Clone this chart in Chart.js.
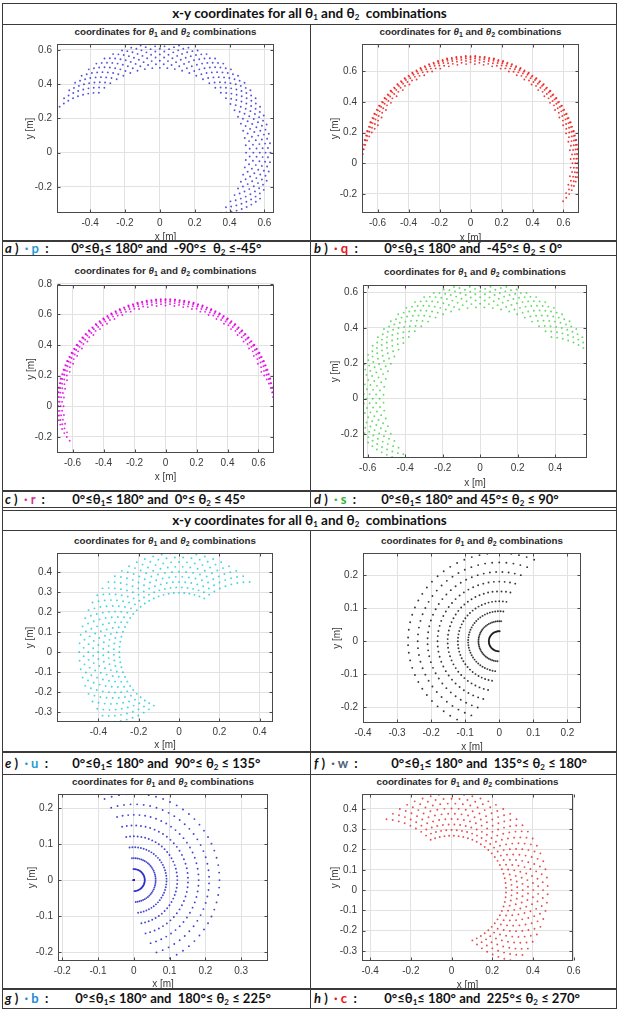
<!DOCTYPE html>
<html>
<head>
<meta charset="utf-8">
<script src="https://cdn.jsdelivr.net/npm/chart.js@4.4.1/dist/chart.umd.min.js"></script>
<style>
  html, body { margin: 0; padding: 0; background: #fff; }
  #page { position: relative; width: 619px; height: 1010px; overflow: hidden; }
  .ln { position: absolute; background: #3a3a3a; }
  .hdr { position: absolute; left: 3px; width: 613px; text-align: center; font: bold 13.5px Lato, sans-serif; color: #111; white-space: pre; }
  .ttl { position: absolute; width: 260px; height: 12px; line-height: 12px; text-align: center; white-space: pre;
         font: bold 9.8px 'Liberation Sans', Arial, sans-serif; color: #2a2a2a; }
  .cap { position: absolute; font: bold 13px Lato, sans-serif; color: #111; white-space: pre; }
  .cap .cond { position: absolute; top: 0; }
  sub { font-size: 8px; line-height: 0; vertical-align: -2px; }
  .ttl sub { font-size: 7px; vertical-align: -2px; }
  canvas { position: absolute; }
</style>
</head>
<body>
<div id="page">
  <!-- table lines -->
  <div class="ln" style="left:2px;top:3px;width:615px;height:1px"></div>
  <div class="ln" style="left:2px;top:24px;width:615px;height:1px"></div>
  <div class="ln" style="left:2px;top:3px;width:1px;height:1005px"></div>
  <div class="ln" style="left:616px;top:3px;width:1px;height:1005px"></div>
  <div class="ln" style="left:310px;top:24px;width:1px;height:484px"></div>
  <div class="ln" style="left:310px;top:530px;width:1px;height:478px"></div>
  <div class="ln" style="left:2px;top:240px;width:615px;height:2px"></div>
  <div class="ln" style="left:2px;top:255px;width:615px;height:1px"></div>
  <div class="ln" style="left:2px;top:490px;width:615px;height:2px"></div>
  <div class="ln" style="left:2px;top:507px;width:615px;height:1px"></div>
  <div class="ln" style="left:2px;top:510px;width:615px;height:1px"></div>
  <div class="ln" style="left:2px;top:530px;width:615px;height:1px"></div>
  <div class="ln" style="left:2px;top:751px;width:615px;height:2px"></div>
  <div class="ln" style="left:2px;top:774px;width:615px;height:1px"></div>
  <div class="ln" style="left:2px;top:988px;width:615px;height:2px"></div>
  <div class="ln" style="left:2px;top:1008px;width:615px;height:1px"></div>

  <div class="hdr" style="top:3px;height:21px;line-height:21px">x-y coordinates for all θ<sub>1</sub> and θ<sub>2</sub>  combinations</div>
  <div class="hdr" style="top:510px;height:20px;line-height:20px">x-y coordinates for all θ<sub>1</sub> and θ<sub>2</sub>  combinations</div>

  <div class="cap" style="left:5px;top:241px;height:14px;line-height:14px"><i>a</i> )  <span style="color:#1f9ad6">· p</span>  :<span class="cond" style="left:60px">  0°≤θ<sub>1</sub>≤ 180° and  -90°≤  θ<sub>2</sub> ≤-45°</span></div>
  <div class="cap" style="left:314px;top:241px;height:14px;line-height:14px"><i>b</i> )  <span style="color:#e8141b">· q</span>  :<span class="cond" style="left:64px">  0°≤θ<sub>1</sub>≤ 180° and  -45°≤ θ<sub>2</sub> ≤ 0°</span></div>
  <div class="cap" style="left:5px;top:491px;height:16px;line-height:16px"><i>c</i> )  <span style="color:#d9318f">· r</span>  :<span class="cond" style="left:61px">  0°≤θ<sub>1</sub>≤ 180° and  0°≤ θ<sub>2</sub> ≤ 45°</span></div>
  <div class="cap" style="left:314px;top:491px;height:16px;line-height:16px"><i>d</i> )  <span style="color:#2fb52f">· s</span>  :<span class="cond" style="left:61px">  0°≤θ<sub>1</sub>≤ 180° and 45°≤ θ<sub>2</sub> ≤ 90°</span></div>
  <div class="cap" style="left:5px;top:752px;height:22px;line-height:22px"><i>e</i> )  <span style="color:#1f9ad6">· u</span>  :<span class="cond" style="left:61px">  0°≤θ<sub>1</sub>≤ 180° and  90°≤ θ<sub>2</sub> ≤ 135°</span></div>
  <div class="cap" style="left:314px;top:752px;height:22px;line-height:22px"><i>f</i> )  <span style="color:#4f6179">· w</span>  :<span class="cond" style="left:71px">  0°≤θ<sub>1</sub>≤ 180° and  135°≤ θ<sub>2</sub> ≤ 180°</span></div>
  <div class="cap" style="left:5px;top:989px;height:19px;line-height:19px"><i>g</i> )  <span style="color:#1f8bd6">· b</span>  :<span class="cond" style="left:64px">  0°≤θ<sub>1</sub>≤ 180° and  180°≤ θ<sub>2</sub> ≤ 225°</span></div>
  <div class="cap" style="left:314px;top:989px;height:19px;line-height:19px"><i>h</i> )  <span style="color:#e8141b">· c</span>  :<span class="cond" style="left:64px">  0°≤θ<sub>1</sub>≤ 180° and  225°≤ θ<sub>2</sub> ≤ 270°</span></div>
</div>

<script>
// link lengths of the two-link arm [m] (full reach 0.7 m)
const L1 = 0.35;
const L2 = 0.35;

// θ1 sweep [deg], same for every plot
const theta1Deg = [0, 5, 10, 15, 20, 25, 30, 35, 40, 45, 50, 55, 60, 65, 70, 75, 80, 85, 90,
  95, 100, 105, 110, 115, 120, 125, 130, 135, 140, 145, 150, 155, 160, 165, 170, 175, 180];

// θ2 sweeps [deg] for each plot
const theta2P = [-90, -85, -80, -75, -70, -65, -60, -55, -50];
const theta2Q = [-45, -40, -35, -30, -25, -20, -15, -10, -5];
const theta2R = [0, 5, 10, 15, 20, 25, 30, 35, 40];
const theta2S = [45, 50, 55, 60, 65, 70, 75, 80, 85];
const theta2U = [90, 95, 100, 105, 110, 115, 120, 125, 130];
const theta2W = [135, 140, 145, 150, 155, 160, 165, 170, 175];
const theta2B = [180, 185, 190, 195, 200, 205, 210, 215, 220];
const theta2C = [225, 230, 235, 240, 245, 250, 255, 260, 265];

// tick values
const xTicksA = [-0.4, -0.2, 0, 0.2, 0.4, 0.6];
const yTicksA = [-0.2, 0, 0.2, 0.4, 0.6];
const xTicksB = [-0.6, -0.4, -0.2, 0, 0.2, 0.4, 0.6];
const yTicksB = [-0.2, 0, 0.2, 0.4, 0.6];
const xTicksC = [-0.6, -0.4, -0.2, 0, 0.2, 0.4, 0.6];
const yTicksC = [-0.2, 0, 0.2, 0.4, 0.6, 0.8];
const xTicksD = [-0.6, -0.4, -0.2, 0, 0.2, 0.4];
const yTicksD = [-0.2, 0, 0.2, 0.4, 0.6];
const xTicksE = [-0.4, -0.2, 0, 0.2, 0.4];
const yTicksE = [-0.3, -0.2, -0.1, 0, 0.1, 0.2, 0.3, 0.4];
const xTicksF = [-0.4, -0.3, -0.2, -0.1, 0, 0.1, 0.2];
const yTicksF = [-0.2, -0.1, 0, 0.1, 0.2];
const xTicksG = [-0.2, -0.1, 0, 0.1, 0.2, 0.3];
const yTicksG = [-0.2, -0.1, 0, 0.1, 0.2];
const xTicksH = [-0.4, -0.2, 0, 0.2, 0.4, 0.6];
const yTicksH = [-0.3, -0.2, -0.1, 0, 0.1, 0.2, 0.3, 0.4];

// plot layout: axes box [left, top, right, bottom] in page px, axis limits, label spots
const panels = [
  { t2: theta2P, color: 'rgba(40,40,210,0.8)', box: [57, 43, 274, 213], xr: [-0.59, 0.655], yr: [-0.352, 0.634], xt: xTicksA, yt: yTicksA, yLab: 30, xLab: 237, title: 32 },
  { t2: theta2Q, color: 'rgba(235,25,25,0.85)', box: [362, 43, 579, 213], xr: [-0.7, 0.7], yr: [-0.324, 0.777], xt: xTicksB, yt: yTicksB, yLab: 335, xLab: 238, title: 32 },
  { t2: theta2R, color: 'rgba(225,0,225,0.85)', box: [57, 284, 274, 453], xr: [-0.7, 0.7], yr: [-0.305, 0.792], xt: xTicksC, yt: yTicksC, yLab: 31, xLab: 477, title: 271 },
  { t2: theta2S, color: 'rgba(50,205,50,0.75)', box: [363, 284, 587, 458], xr: [-0.625, 0.57], yr: [-0.335, 0.642], xt: xTicksD, yt: yTicksD, yLab: 335, xLab: 483, title: 272 },
  { t2: theta2U, color: 'rgba(0,200,215,0.75)', box: [57, 552, 273, 722], xr: [-0.605, 0.466], yr: [-0.35, 0.495], xt: xTicksE, yt: yTicksE, yLab: 30, xLab: 745, title: 541 },
  { t2: theta2W, color: 'rgba(20,20,20,0.85)', box: [363, 552, 581, 723], xr: [-0.40, 0.24], yr: [-0.248, 0.268], xt: xTicksF, yt: yTicksF, yLab: 337, xLab: 747, title: 541 },
  { t2: theta2B, color: 'rgba(35,35,205,0.85)', box: [58, 793, 268, 961], xr: [-0.212, 0.375], yr: [-0.2246, 0.239], xt: xTicksG, yt: yTicksG, yLab: 32, xLab: 984, title: 782 },
  { t2: theta2C, color: 'rgba(225,35,35,0.8)', box: [362, 793, 573, 961], xr: [-0.44, 0.597], yr: [-0.349, 0.473], xt: xTicksH, yt: yTicksH, yLab: 335, xLab: 985, title: 782 }
];

// end point of the arm for every θ1/θ2 pair
function workspace(t2list) {
  const pts = [];
  theta1Deg.forEach(a => {
    t2list.forEach(b => {
      const t1 = a * Math.PI / 180;
      const t12 = (a + b) * Math.PI / 180;
      pts.push({ x: L1 * Math.cos(t1) + L2 * Math.cos(t12), y: L1 * Math.sin(t1) + L2 * Math.sin(t12) });
    });
  });
  return pts;
}

// matlab style box with little inward ticks
const boxFrame = {
  id: 'boxFrame',
  afterDraw(chart) {
    const { ctx, chartArea: a, scales } = chart;
    const l = Math.round(a.left) + 0.5, r = Math.round(a.right) - 0.5;
    const t = Math.round(a.top) + 0.5, b = Math.round(a.bottom) - 0.5;
    ctx.save();
    ctx.strokeStyle = '#4a4a4a';
    ctx.lineWidth = 1;
    ctx.strokeRect(l, t, r - l, b - t);
    ctx.beginPath();
    scales.x.ticks.forEach(tk => {
      const px = Math.round(scales.x.getPixelForValue(tk.value)) + 0.5;
      ctx.moveTo(px, b); ctx.lineTo(px, b - 3);
      ctx.moveTo(px, t); ctx.lineTo(px, t + 3);
    });
    scales.y.ticks.forEach(tk => {
      const py = Math.round(scales.y.getPixelForValue(tk.value)) + 0.5;
      ctx.moveTo(l, py); ctx.lineTo(l + 3, py);
      ctx.moveTo(r, py); ctx.lineTo(r - 3, py);
    });
    ctx.stroke();
    ctx.restore();
  }
};

function fmt(v) {
  const s = String(Math.round(v * 10) / 10);
  return s === '-0' ? '0' : s;
}

const page = document.getElementById('page');
const fontSize = 10;
const half = fontSize * 1.2 / 2;
const axisFont = { family: "'Liberation Sans', Arial, sans-serif", size: fontSize };

panels.forEach(p => {
  const [bl, bt, br, bb] = p.box;

  // small title above each plot
  const ttl = document.createElement('div');
  ttl.className = 'ttl';
  ttl.style.left = ((bl + br) / 2 - 130) + 'px';
  ttl.style.top = (p.title - 6) + 'px';
  ttl.innerHTML = 'coordinates for <i>θ</i><sub>1</sub> and <i>θ</i><sub>2</sub> combinations';
  page.appendChild(ttl);

  const left = p.yLab - half;
  const top = bt - 10;
  const w = Math.round(br + 15 - left);
  const h = Math.round(p.xLab + half - top);
  const yW = bl - left;
  const xH = top + h - bb;

  const cv = document.createElement('canvas');
  cv.width = w; cv.height = h;
  cv.style.left = left + 'px';
  cv.style.top = top + 'px';
  cv.style.width = w + 'px';
  cv.style.height = h + 'px';
  page.appendChild(cv);

  new Chart(cv.getContext('2d'), {
    type: 'scatter',
    data: {
      datasets: [{
        data: workspace(p.t2),
        backgroundColor: p.color,
        borderWidth: 0,
        pointRadius: 0.95,
        pointHoverRadius: 0.95,
        clip: 0
      }]
    },
    options: {
      responsive: false,
      animation: false,
      events: [],
      layout: { padding: { left: 0, top: 10, right: 15, bottom: 0 } },
      plugins: { legend: { display: false }, tooltip: { enabled: false } },
      scales: {
        x: {
          type: 'linear', min: p.xr[0], max: p.xr[1],
          afterBuildTicks: s => { s.ticks = p.xt.map(v => ({ value: v })); },
          afterFit: s => { s.height = xH; },
          grid: { color: '#e2e2e2', drawTicks: false },
          border: { display: false },
          ticks: { padding: 4, font: axisFont, color: '#3a3a3a', maxRotation: 0, autoSkip: false, callback: fmt },
          title: { display: true, text: 'x [m]', padding: 0, font: axisFont, color: '#3a3a3a' }
        },
        y: {
          type: 'linear', min: p.yr[0], max: p.yr[1],
          afterBuildTicks: s => { s.ticks = p.yt.map(v => ({ value: v })); },
          afterFit: s => { s.width = yW; },
          grid: { color: '#e2e2e2', drawTicks: false },
          border: { display: false },
          ticks: { padding: 5, font: axisFont, color: '#3a3a3a', autoSkip: false, callback: fmt },
          title: { display: true, text: 'y [m]', padding: 0, font: axisFont, color: '#3a3a3a' }
        }
      }
    },
    plugins: [boxFrame]
  });
});
</script>
</body>
</html>
